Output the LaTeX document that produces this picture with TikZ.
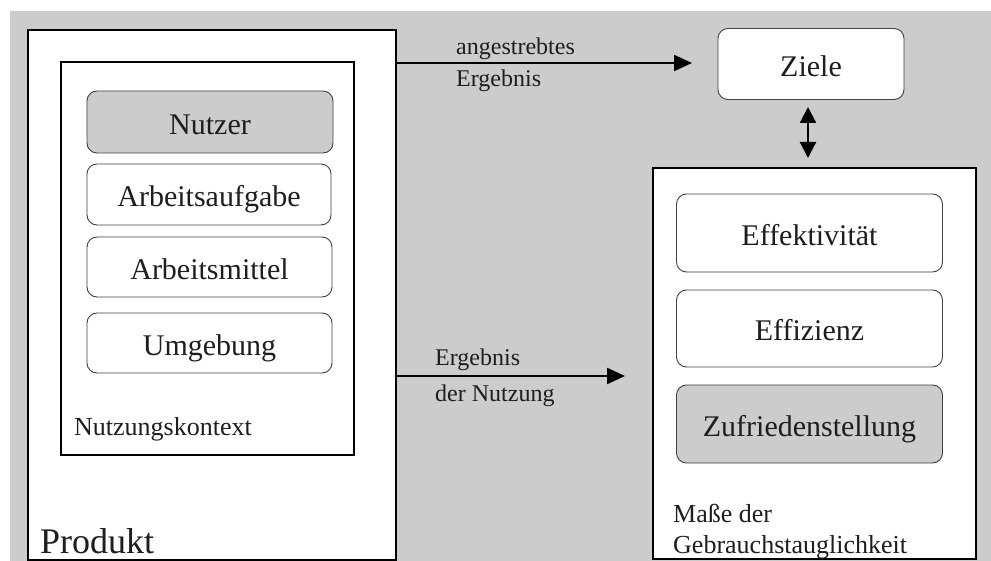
\documentclass[tikz,border=0pt]{standalone}
\usepackage{fontspec}
\setmainfont{Liberation Serif}
\usetikzlibrary{arrows.meta}
\definecolor{bggrey}{HTML}{CCCCCC}
\definecolor{edgegrey}{HTML}{404040}
\definecolor{txt}{HTML}{1E1E1E}
\tikzset{
  outerbox/.style={draw=black, line width=1.4pt, fill=white, rectangle, inner sep=0pt},
  innerbox/.style={draw=black, line width=1.1pt, fill=white, rectangle, inner sep=0pt},
  roundbox/.style={draw=edgegrey, line width=0.9pt, fill=white, rounded corners=10pt,
    inner sep=0pt, text=txt, font=\fontsize{30}{32}\selectfont,
    text height=25pt, text depth=0pt},
  greybox/.style={roundbox, fill=bggrey},
  lbl/.style={anchor=base west, inner sep=0pt, text=txt, font=\fontsize{24}{26}\selectfont},
  arr/.style={draw=black, line width=2.2pt, -{Triangle[length=18pt,width=16pt]}},
  dblarr/.style={draw=black, line width=2.2pt, {Triangle[length=16pt,width=16pt]}-{Triangle[length=16pt,width=16pt]}}
}
\begin{document}
\begin{tikzpicture}[x=1pt,y=-1pt]
\useasboundingbox (0,0) rectangle (991,561);
\fill[bggrey] (10,11) rectangle (991,561);

% left product box
\node[outerbox, minimum width=368pt, minimum height=530pt] (produkt) at (212,295) {};
\node[innerbox, minimum width=293pt, minimum height=393pt] (kontext) at (207.5,258.5) {};
\node[greybox, minimum width=246pt, minimum height=62pt] (nutzer) at (210,122) {Nutzer};
\node[roundbox, minimum width=244pt, minimum height=61pt] (aufgabe) at (209,194.5) {Arbeitsaufgabe};
\node[roundbox, minimum width=245pt, minimum height=60pt] (mittel) at (209.5,267) {Arbeitsmittel};
\node[roundbox, minimum width=245pt, minimum height=60pt] (umgebung) at (209.5,343) {Umgebung};
\node[lbl, font=\fontsize{26}{28}\selectfont] (kontextlbl) at (74,435) {Nutzungskontext};
\node[lbl, font=\fontsize{36}{38}\selectfont] (produktlbl) at (40,553) {Produkt};

% goals
\node[roundbox, minimum width=186pt, minimum height=71pt] (ziele) at (811,64) {Ziele};

% right measures box
\node[outerbox, minimum width=323pt, minimum height=391pt] (masse) at (814.5,363.5) {};
\node[roundbox, minimum width=266pt, minimum height=78pt] (effekt) at (809.5,233) {Effektivität};
\node[roundbox, minimum width=266pt, minimum height=77pt] (effiz) at (809.5,328.5) {Effizienz};
\node[greybox, minimum width=266pt, minimum height=78pt] (zufr) at (809.5,424) {Zufriedenstellung};
\node[lbl, font=\fontsize{26}{28}\selectfont] (masselbl) at (673,522) {Maße der};
\node[lbl, font=\fontsize{26}{28}\selectfont] (gebrlbl) at (673,553) {Gebrauchstauglichkeit};

% arrows
\coordinate (a1s) at (396,63);
\coordinate (a1e) at (692,63);
\draw[arr] (a1s) -- (a1e);
\node[lbl] (ang) at (456,55) {angestrebtes};
\node[lbl] (erg1) at (456,87) {Ergebnis};

\coordinate (a2s) at (397,376);
\coordinate (a2e) at (625,376);
\draw[arr] (a2s) -- (a2e);
\node[lbl] (erg2) at (435,366) {Ergebnis};
\node[lbl] (nutz) at (435,401) {der Nutzung};

\coordinate (d1) at (808,107);
\coordinate (d2) at (808,158);
\draw[dblarr] (d1) -- (d2);
\end{tikzpicture}
\end{document}
